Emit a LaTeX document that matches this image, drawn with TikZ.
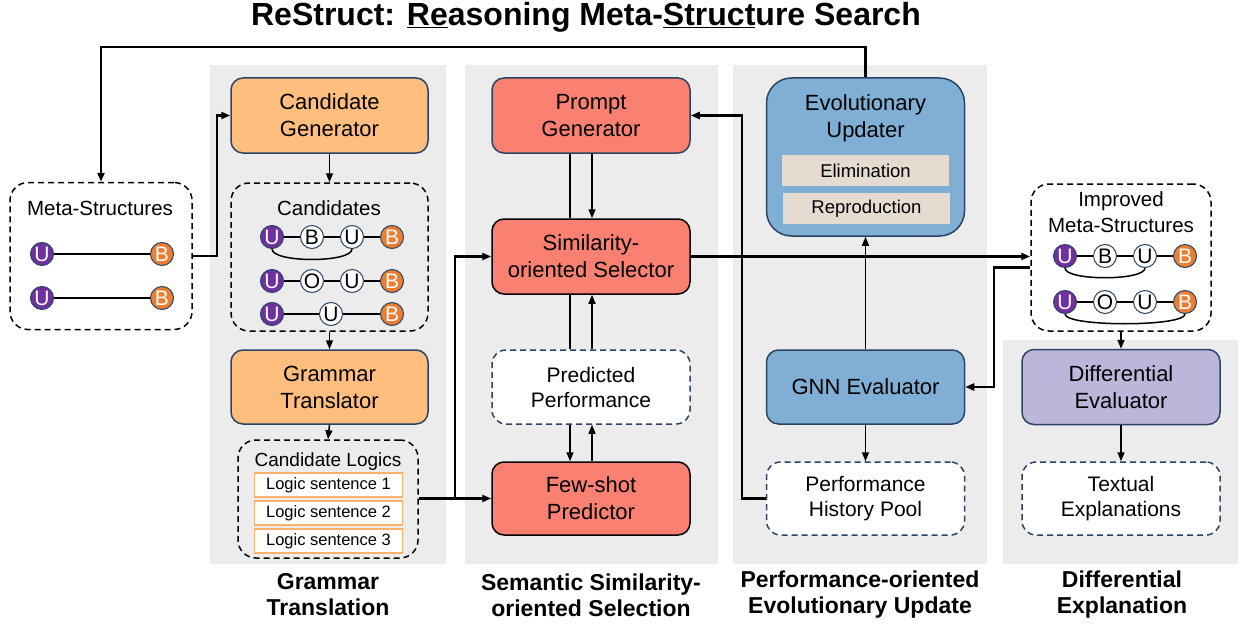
\documentclass[tikz,border=0pt]{standalone}
\usepackage{fontspec}
\setmainfont{Liberation Sans}
\usetikzlibrary{arrows.meta,calc}
\definecolor{panel}{HTML}{ECECEC}
\definecolor{navy}{HTML}{2B4466}
\definecolor{orangebox}{HTML}{FFBE7D}
\definecolor{salmon}{HTML}{FA8072}
\definecolor{bluebox}{HTML}{7FAFD4}
\definecolor{lavender}{HTML}{BCB6DB}
\definecolor{beige}{HTML}{E6DBD1}
\definecolor{mpurple}{HTML}{7030A0}
\definecolor{morange}{HTML}{ED7D31}
\definecolor{logicborder}{HTML}{F8B26C}
\begin{document}
\begin{tikzpicture}[x=1pt,y=-1pt,
  box/.style={draw=navy, line width=1.5pt, rounded corners=12pt, minimum width=198pt, minimum height=75pt, inner sep=0pt, align=center, font=\fontsize{22}{27}\selectfont},
  dboxk/.style={draw=black, line width=1.5pt, dash pattern=on 6pt off 4pt, rounded corners=18pt, inner sep=0pt},
  dboxn/.style={draw=navy, fill=white, line width=1.5pt, dash pattern=on 6pt off 4pt, rounded corners=14pt, inner sep=0pt, minimum width=198pt, minimum height=73pt, align=center, font=\fontsize{21}{25}\selectfont},
  ttl/.style={align=center, inner sep=0pt, font=\fontsize{20.5}{26}\selectfont},
  panelcap/.style={align=center, inner sep=0pt, font=\fontsize{23}{26}\selectfont\bfseries},
  logic/.style={draw=logicborder, line width=1.3pt, fill=white, minimum width=148pt, minimum height=24pt, inner sep=0pt, font=\fontsize{16.5}{16.5}\selectfont},
  sub/.style={fill=beige, minimum width=167pt, minimum height=31pt, inner sep=0pt, font=\fontsize{18.5}{18.5}\selectfont},
  mu/.style={circle, draw=navy, line width=1pt, fill=mpurple, text=white, minimum size=23pt, inner sep=0pt, font=\fontsize{21}{21}\selectfont},
  mb/.style={mu, fill=morange},
  mw/.style={mu, fill=white, text=black},
  medge/.style={line width=1.5pt},
  thk/.style={line width=2.4pt},
  thn/.style={line width=1.5pt},
  tip/.style={-{Triangle[length=9pt,width=7pt]}}
]
\useasboundingbox (0,0) rectangle (1243,626);
\fill[white] (0,0) rectangle (1243,626);
% panels
\fill[panel] (210,65) rectangle (446,564);
\fill[panel] (465,65) rectangle (718,564);
\fill[panel] (733,65) rectangle (987,564);
\fill[panel] (1003,340) rectangle (1238,564);

% title
\node[inner sep=0pt, font=\fontsize{32}{32}\selectfont\bfseries] (title) at (586,17) {ReStruct: \underline{Re}asoning Meta-\underline{Struct}ure Search};

% captions
\node[panelcap] (cap1) at (328,595) {Grammar\\Translation};
\node[panelcap] (cap2) at (591,595) {Semantic Similarity-\\oriented Selection};
\node[panelcap] (cap3) at (860,595) {Performance-oriented\\Evolutionary Update};
\node[panelcap] (cap4) at (1122,595) {Differential\\Explanation};

% Meta-Structures
\node[dboxk, minimum width=182pt, minimum height=147pt] (ms) at (101,256) {};
\node[ttl] (mst) at (100,208) {Meta-Structures};
\node[mu] (m1) at (42,254) {U};
\node[mb] (m2) at (162,254) {B};
\node[mu] (n1) at (42,298) {U};
\node[mb] (n2) at (162,298) {B};
\draw[medge] (m1) -- (m2);
\draw[medge] (n1) -- (n2);

% Grammar translation column
\node[box, fill=orangebox, minimum width=197pt] (cg) at (329.5,115.5) {Candidate\\Generator};
\node[dboxk, minimum width=197pt, minimum height=148pt] (cand) at (329.5,257) {};
\node[ttl] (candt) at (329,208) {Candidates};
\node[mu] (a1) at (272,237) {U};
\node[mw] (a2) at (312,237) {B};
\node[mw] (a3) at (352,237) {U};
\node[mb] (a4) at (392,237) {B};
\draw[medge] (a1) -- (a2);
\draw[medge] (a2) -- (a3);
\draw[medge] (a3) -- (a4);
\draw[medge] (a1.south) .. controls +(0,14) and +(0,14) .. (a3.south);
\node[mu] (b1) at (272,281) {U};
\node[mw] (b2) at (312,281) {O};
\node[mw] (b3) at (352,281) {U};
\node[mb] (b4) at (392,281) {B};
\draw[medge] (b1) -- (b2);
\draw[medge] (b2) -- (b3);
\draw[medge] (b3) -- (b4);
\node[mu] (c1) at (272,314) {U};
\node[mw] (c2) at (331,314) {U};
\node[mb] (c3) at (392,314) {B};
\draw[medge] (c1) -- (c2);
\draw[medge] (c2) -- (c3);
\node[box, fill=orangebox, minimum width=197pt, minimum height=74pt] (gt) at (329.5,387) {Grammar\\Translator};
\node[dboxk, minimum width=180pt, minimum height=118pt] (cl) at (328,499) {};
\node[ttl, font=\fontsize{19}{22}\selectfont] (clt) at (328,462) {Candidate Logics};
\node[logic] (l1) at (328.5,485) {Logic sentence 1};
\node[logic] (l2) at (328.5,513) {Logic sentence 2};
\node[logic] (l3) at (328.5,541) {Logic sentence 3};

% Semantic selection column
\node[box, fill=salmon] (pg) at (591,115.5) {Prompt\\Generator};
\node[box, fill=salmon, draw=black] (sel) at (591,256.5) {Similarity-\\oriented Selector};
\node[dboxn, minimum height=74pt] (pp) at (591,387) {Predicted\\Performance};
\node[box, fill=salmon, draw=black, minimum height=73pt] (fs) at (591,498.5) {Few-shot\\Predictor};

% Evolutionary column
\node[box, fill=bluebox, minimum height=158pt, rounded corners=25pt] (evo) at (865.5,157) {};
\node[ttl, font=\fontsize{22}{27}\selectfont] (evot) at (865.5,118.5) {Evolutionary\\Updater};
\node[sub] (elim) at (865.5,170.5) {Elimination};
\node[sub] (repr) at (866.5,208.5) {Reproduction};
\node[box, fill=bluebox, minimum height=74pt] (gnn) at (865.5,387) {GNN Evaluator};
\node[dboxn] (hp) at (865.5,498.5) {Performance\\History Pool};

% Improved meta-structures
\node[dboxk, minimum width=180pt, minimum height=147pt] (imp) at (1121,257.5) {};
\node[ttl] (impt) at (1121,212) {Improved\\Meta-Structures};
\node[mu] (i1) at (1065,256) {U};
\node[mw] (i2) at (1105,256) {B};
\node[mw] (i3) at (1145,256) {U};
\node[mb] (i4) at (1185,256) {B};
\draw[medge] (i1) -- (i2);
\draw[medge] (i2) -- (i3);
\draw[medge] (i3) -- (i4);
\draw[medge] (i1.south) .. controls +(0,13) and +(0,13) .. (i3.south);
\node[mu] (k1) at (1065,302) {U};
\node[mw] (k2) at (1105,302) {O};
\node[mw] (k3) at (1145,302) {U};
\node[mb] (k4) at (1185,302) {B};
\draw[medge] (k1) -- (k2);
\draw[medge] (k2) -- (k3);
\draw[medge] (k3) -- (k4);
\draw[medge] (k1.south) .. controls +(0,13) and +(0,13) .. (k4.south);

% Differential column
\node[box, fill=lavender] (diff) at (1121,387) {Differential\\Evaluator};
\node[dboxn] (tx) at (1121,498.5) {Textual\\Explanations};

% connectors
\draw[thk, tip] (evo.north) -- ++(0,-30) -| (ms.north);
\draw[thk, tip] (ms.east) -- ++(24,0) |- (cg.west);
\draw[thn, tip] (cg.south) -- (cand.north);
\draw[thn, tip] (cand.south) -- (gt.north);
\draw[thn, tip] (gt.south) -- (cl.north);
\coordinate (jn) at (455,498.5);
\draw[thk, tip] (cl.east |- jn) -- (fs.west);
\draw[thk, tip] (jn) |- (sel.west);
% prompt / selector / predicted / few-shot
\draw[thn] ([xshift=-21pt]pg.south) -- ([xshift=-21pt]sel.north);
\draw[thn, tip] ([xshift=1pt]pg.south) -- ([xshift=1pt]sel.north);
\draw[thn] ([xshift=-21pt]sel.south) -- ([xshift=-21pt]pp.north);
\draw[thn, tip] ([xshift=1pt]pp.north) -- ([xshift=1pt]sel.south);
\draw[thn, tip] ([xshift=-21pt]pp.south) -- ([xshift=-21pt]fs.north);
\draw[thn, tip] ([xshift=1pt]fs.north) -- ([xshift=1pt]pp.south);
% selector to improved
\draw[thk, tip] (sel.east) -- (sel.east -| imp.west);
% history pool to prompt generator
\draw[thk, tip] (hp.west) -- ++(-24,0) |- (pg.east);
% evolution
\draw[thn, tip] (gnn.north) -- (evo.south);
\draw[thn, tip] (gnn.south) -- (hp.north);
% improved to GNN
\draw[thk, tip] ($(imp.west)+(0,10)$) -- ++(-36,0) |- (gnn.east);
\draw[thn, tip] (imp.south) -- (diff.north);
\draw[thn, tip] (diff.south) -- (tx.north);
\end{tikzpicture}
\end{document}
